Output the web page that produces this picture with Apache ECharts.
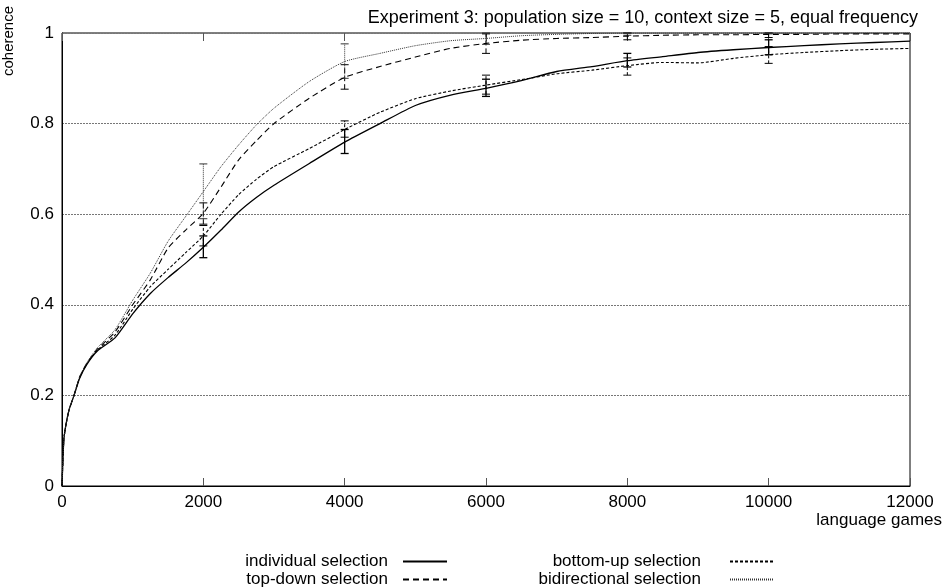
<!DOCTYPE html>
<html>
<head>
<meta charset="utf-8">
<title>Experiment 3</title>
<script src="https://cdn.jsdelivr.net/npm/echarts@6/dist/echarts.min.js"></script>
<style>
  html, body { margin: 0; padding: 0; background: #fff; }
  #chart { width: 947px; height: 588px; }
</style>
</head>
<body>
<div id="chart"></div>
<script>
var games = [0, 25, 50, 100, 170, 250, 350, 500, 750, 1000, 1250, 1500, 1750, 2000, 2250, 2500, 2750, 3000, 3500, 4000,
  4500, 5000, 5500, 6000, 6500, 7000, 7500, 8000, 8500, 9000, 9500, 10000, 10500, 11000, 11500, 12000]

var individual = [0, 0.10, 0.13, 0.168, 0.2, 0.238, 0.268, 0.298, 0.327, 0.38, 0.425, 0.46, 0.492, 0.527, 0.565, 0.605,
  0.637, 0.664, 0.712, 0.759, 0.80, 0.84, 0.863, 0.878, 0.895, 0.915, 0.926, 0.939, 0.948, 0.957, 0.963, 0.968,
  0.972, 0.976, 0.979, 0.982]
var topDown = [0, 0.10, 0.13, 0.168, 0.2, 0.24, 0.27, 0.302, 0.34, 0.40, 0.455, 0.525, 0.565, 0.602, 0.66, 0.72,
  0.762, 0.80, 0.856, 0.902, 0.926, 0.947, 0.966, 0.977, 0.984, 0.988, 0.99, 0.993, 0.995, 0.996, 0.996, 0.997,
  0.997, 0.998, 0.998, 0.998]
var bottomUp = [0, 0.10, 0.13, 0.168, 0.2, 0.24, 0.27, 0.30, 0.333, 0.39, 0.44, 0.478, 0.515, 0.552, 0.60, 0.643,
  0.677, 0.705, 0.745, 0.787, 0.825, 0.855, 0.872, 0.885, 0.897, 0.91, 0.918, 0.928, 0.935, 0.934, 0.944, 0.952,
  0.957, 0.961, 0.964, 0.966]
var bidirectional = [0, 0.10, 0.13, 0.168, 0.2, 0.242, 0.272, 0.305, 0.345, 0.41, 0.47, 0.54, 0.595, 0.65, 0.705, 0.753,
  0.797, 0.834, 0.893, 0.937, 0.955, 0.972, 0.983, 0.988, 0.994, 0.997, 0.999, 1, 1, 1, 1, 1, 1, 1, 1, 1]

// [games, low, high]
var individualErr = [[2000, 0.504, 0.552], [4000, 0.734, 0.787], [6000, 0.86, 0.898], [8000, 0.925, 0.955], [10000, 0.952, 0.985]]
var topDownErr = [[2000, 0.578, 0.625], [4000, 0.876, 0.93], [6000, 0.955, 0.998], [8000, 0.985, 1], [10000, 0.99, 1]]
var bottomUpErr = [[2000, 0.53, 0.575], [4000, 0.77, 0.806], [6000, 0.865, 0.907], [8000, 0.907, 0.945], [10000, 0.933, 0.97]]
var bidirectionalErr = [[2000, 0.59, 0.711], [4000, 0.90, 0.976], [6000, 0.975, 1], [8000, 0.995, 1], [10000, 0.998, 1]]

var FONT = '"Liberation Sans", Arial, Helvetica, sans-serif'

function pairs(ys) {
  return games.map(function (g, i) { return [g, ys[i]] })
}

function lineSeries(name, ys, type, width, color) {
  return {
    name: name,
    type: 'line',
    data: pairs(ys),
    symbol: 'none',
    showSymbol: false,
    smooth: 0.2,
    animation: false,
    itemStyle: { color: color },
    lineStyle: { color: color, width: width, type: type }
  }
}

function errSeries(data, dash, width, color) {
  return {
    type: 'custom',
    data: data,
    encode: { x: 0, y: [1, 2] },
    animation: false,
    z: 3,
    renderItem: function (params, api) {
      var x = api.value(0)
      var lo = api.coord([x, api.value(1)])
      var hi = api.coord([x, api.value(2)])
      var w = 4
      return {
        type: 'group',
        children: [
          { type: 'line', shape: { x1: lo[0], y1: lo[1], x2: hi[0], y2: hi[1] }, style: { stroke: color, lineWidth: width, lineDash: dash } },
          { type: 'line', shape: { x1: lo[0] - w, y1: lo[1], x2: lo[0] + w, y2: lo[1] }, style: { stroke: color, lineWidth: width } },
          { type: 'line', shape: { x1: hi[0] - w, y1: hi[1], x2: hi[0] + w, y2: hi[1] }, style: { stroke: color, lineWidth: width } }
        ]
      }
    }
  }
}

function legendItem(name, right, top, gap) {
  return {
    orient: 'horizontal',
    right: right,
    top: top,
    padding: 0,
    align: 'right',
    itemWidth: 44,
    itemHeight: 14,
    data: [name],
    itemStyle: { opacity: 0, borderWidth: 0 },
    textStyle: { fontFamily: FONT, fontSize: 17, color: '#000', padding: [0, gap, 0, 0] }
  }
}

var chart = echarts.init(document.getElementById('chart'))

chart.setOption({
  backgroundColor: '#fff',
  textStyle: { fontFamily: FONT, color: '#000' },
  title: {
    text: 'Experiment 3: population size = 10, context size = 5, equal frequency',
    right: 24,
    top: 4,
    textStyle: { fontFamily: FONT, fontSize: 18, fontWeight: 'normal', color: '#000' }
  },
  legend: [
    legendItem('individual selection', 499, 553, 10),
    legendItem('top-down selection', 499, 571, 10),
    legendItem('bottom-up selection', 172, 553, 24),
    legendItem('bidirectional selection', 172, 571, 24)
  ],
  grid: {
    left: 62,
    right: 37,
    top: 33,
    bottom: 102,
    show: true,
    borderColor: '#000',
    borderWidth: 1
  },
  xAxis: [
    {
      type: 'value',
      min: 0,
      max: 12000,
      interval: 2000,
      axisLine: { show: true, lineStyle: { color: '#000', width: 1 } },
      axisTick: { show: true, inside: true, length: 8, lineStyle: { color: '#555' } },
      axisLabel: { fontFamily: FONT, fontSize: 17, color: '#000', margin: 8, formatter: function (v) { return String(v) } },
      splitLine: { show: false }
    },
    {
      type: 'value',
      position: 'top',
      min: 0,
      max: 12000,
      interval: 2000,
      axisLine: { show: false },
      axisTick: { show: true, inside: true, length: 8, lineStyle: { color: '#555' } },
      axisLabel: { show: false },
      splitLine: { show: false }
    }
  ],
  yAxis: {
    type: 'value',
    min: 0,
    max: 1,
    interval: 0.2,
    axisLine: { show: true, lineStyle: { color: '#000', width: 1 } },
    axisTick: { show: false },
    axisLabel: { fontFamily: FONT, fontSize: 17, color: '#000', margin: 8 },
    splitLine: { show: true, lineStyle: { color: '#777', type: [2, 1], width: 1 } }
  },
  graphic: [
    {
      type: 'text',
      right: 5,
      top: 512,
      style: { text: 'language games', font: '17px ' + FONT, fill: '#000' }
    },
    {
      type: 'text',
      left: 1,
      top: 6,
      rotation: Math.PI / 2,
      style: { text: 'coherence', font: '15px ' + FONT, fill: '#000' }
    }
  ],
  series: [
    lineSeries('individual selection', individual, 'solid', 1.3, '#000'),
    lineSeries('top-down selection', topDown, [6, 4], 1.1, '#000'),
    lineSeries('bottom-up selection', bottomUp, [3, 2], 1.1, '#000'),
    lineSeries('bidirectional selection', bidirectional, [1, 1], 1, '#333'),
    errSeries(individualErr, null, 1.3, '#000'),
    errSeries(topDownErr, [5, 3], 1, '#000'),
    errSeries(bottomUpErr, [3, 2], 1, '#000'),
    errSeries(bidirectionalErr, [1, 1], 1, '#333')
  ]
})
</script>
</body>
</html>
